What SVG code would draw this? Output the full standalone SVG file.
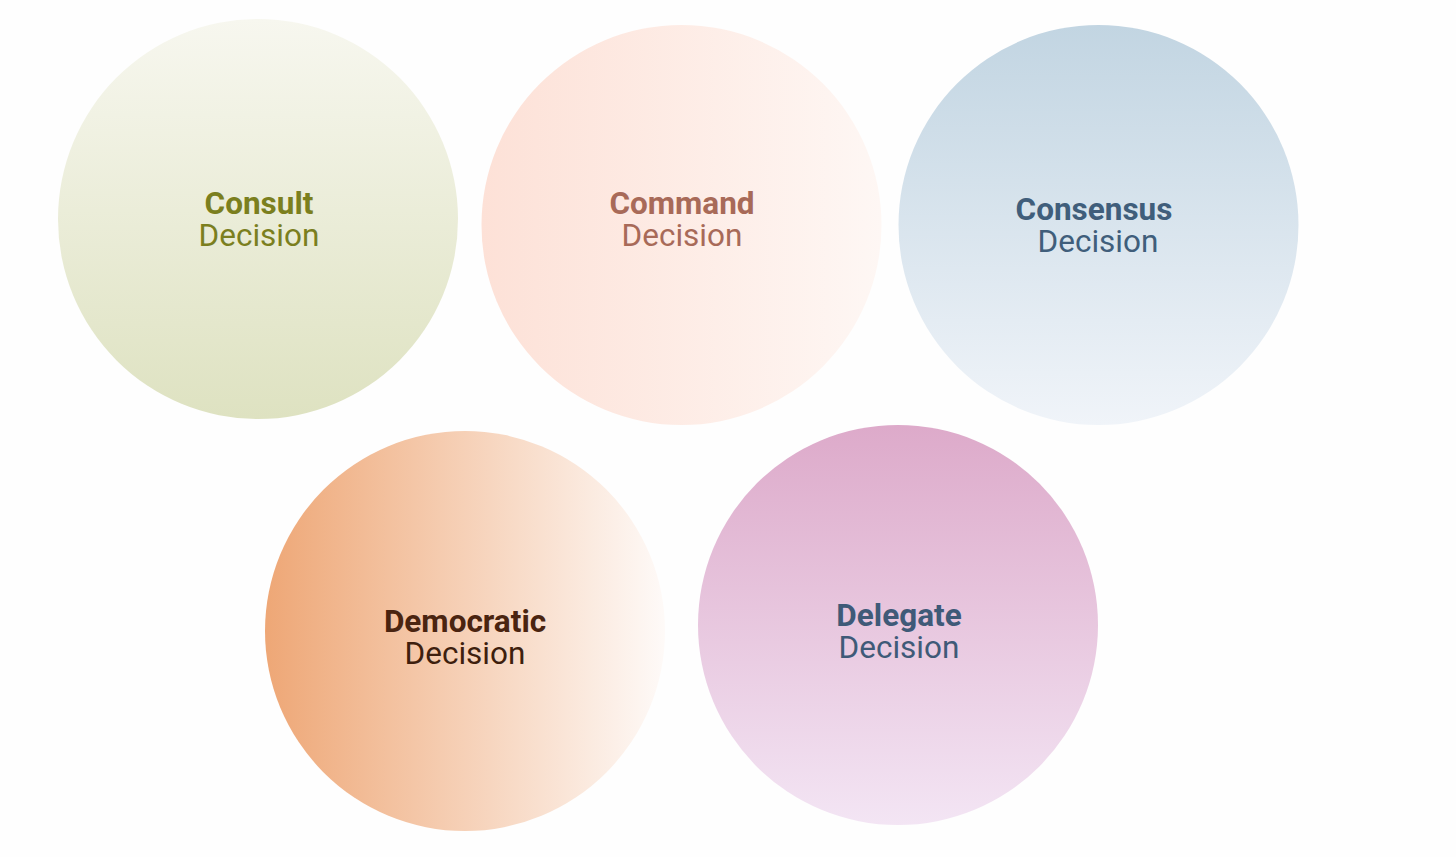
<svg xmlns="http://www.w3.org/2000/svg" width="1456" height="857" viewBox="0 0 1456 857">
<style>
.t{font-family:Roboto,"Liberation Sans",sans-serif;font-size:31.5px;text-anchor:middle}
.b{font-weight:700}
</style>
<defs>
<linearGradient id="gConsult" x1="0" y1="0" x2="0" y2="1"><stop offset="0" stop-color="#f7f7ef"/><stop offset="1" stop-color="#dee2c1"/></linearGradient>
<linearGradient id="gCommand" x1="0" y1="0" x2="1" y2="0"><stop offset="0" stop-color="#fde1d7"/><stop offset="1" stop-color="#fef7f4"/></linearGradient>
<linearGradient id="gConsensus" x1="0" y1="0" x2="0" y2="1"><stop offset="0" stop-color="#c2d5e2"/><stop offset="1" stop-color="#f0f4f9"/></linearGradient>
<linearGradient id="gDemocratic" x1="0" y1="0" x2="1" y2="0"><stop offset="0" stop-color="#eea776"/><stop offset="1" stop-color="#fefaf8"/></linearGradient>
<linearGradient id="gDelegate" x1="0" y1="0" x2="0" y2="1"><stop offset="0" stop-color="#ddaaca"/><stop offset="1" stop-color="#f3e5f4"/></linearGradient>
</defs>
<rect width="1456" height="857" fill="#fefefe"/>
<g id="consult">
<circle cx="258" cy="219" r="200" fill="url(#gConsult)"/>
<text class="t b" x="259" y="214" fill="#7b7f1e">Consult</text>
<text class="t" x="259" y="246" fill="#7b7f1e">Decision</text>
</g>
<g id="command">
<circle cx="681.5" cy="225" r="200" fill="url(#gCommand)"/>
<text class="t b" x="682" y="214" fill="#a86a58">Command</text>
<text class="t" x="682" y="246" fill="#a86a58">Decision</text>
</g>
<g id="consensus">
<circle cx="1098.5" cy="225" r="200" fill="url(#gConsensus)"/>
<text class="t b" x="1094" y="220" fill="#405e7b">Consensus</text>
<text class="t" x="1098" y="252" fill="#405e7b">Decision</text>
</g>
<g id="democratic">
<circle cx="465" cy="631" r="200" fill="url(#gDemocratic)"/>
<text class="t b" x="465" y="632" fill="#4a2410">Democratic</text>
<text class="t" x="465" y="664" fill="#3e1f0e">Decision</text>
</g>
<g id="delegate">
<circle cx="898" cy="625" r="200" fill="url(#gDelegate)"/>
<text class="t b" x="899" y="626" fill="#3f5a78">Delegate</text>
<text class="t" x="899" y="658" fill="#3f5a78">Decision</text>
</g>
<g id="connectors"/>
</svg>
